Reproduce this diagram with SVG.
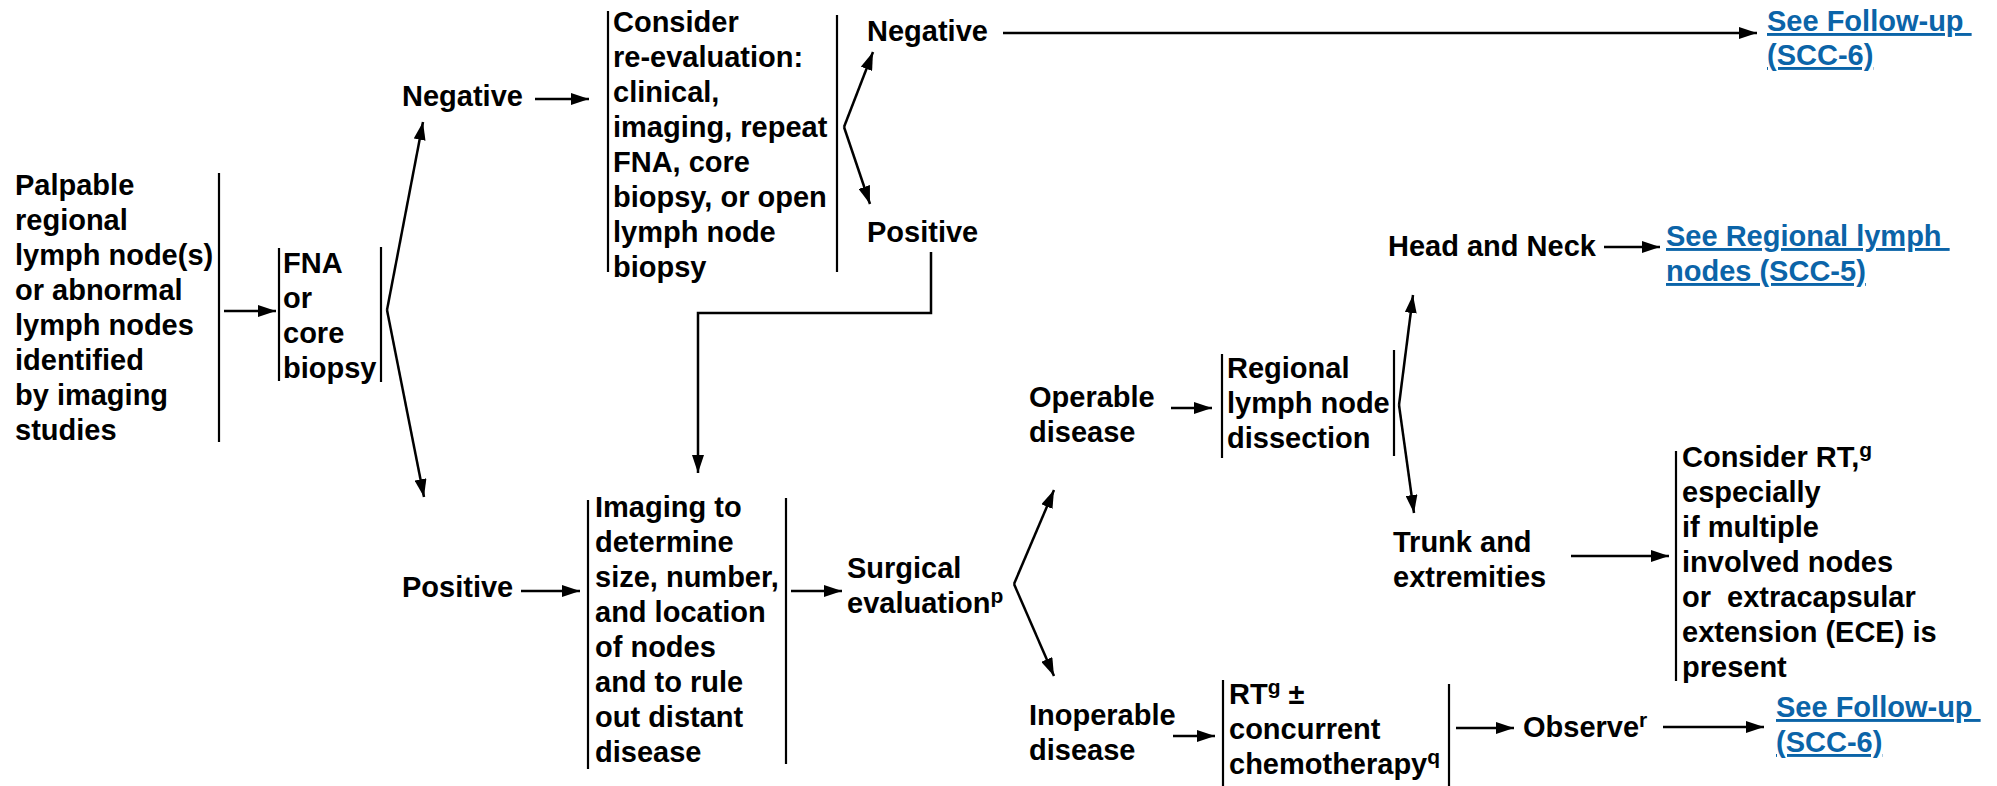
<svg xmlns="http://www.w3.org/2000/svg" width="1997" height="786" viewBox="0 0 1997 786">
<style>
.t{font-family:"Liberation Sans",Arial,sans-serif;font-weight:bold;font-size:29px;fill:#000}
.lk{fill:#0B64A8;text-decoration:underline;white-space:pre}
.sup{font-size:21px}
.bar{stroke:#000;stroke-width:2.2;fill:none}
.ar{stroke:#000;stroke-width:2.5;fill:none;marker-end:url(#ah)}
</style>
<defs>
<marker id="ah" markerUnits="userSpaceOnUse" markerWidth="18" markerHeight="12" refX="18" refY="6" orient="auto">
<path d="M0,0 L18,6 L0,12 z" fill="#000"/>
</marker>
</defs>
<rect width="1997" height="786" fill="#fff"/>

<g id="n-palpable">
<text class="t" x="15" y="195">Palpable</text>
<text class="t" x="15" y="230">regional</text>
<text class="t" x="15" y="265">lymph node(s)</text>
<text class="t" x="15" y="300">or abnormal</text>
<text class="t" x="15" y="335">lymph nodes</text>
<text class="t" x="15" y="370">identified</text>
<text class="t" x="15" y="405">by imaging</text>
<text class="t" x="15" y="440">studies</text>
<line class="bar" x1="219" y1="173" x2="219" y2="442"/>
</g>

<g id="n-fna">
<line class="bar" x1="279" y1="248" x2="279" y2="381"/>
<text class="t" x="283" y="273">FNA</text>
<text class="t" x="283" y="308">or</text>
<text class="t" x="283" y="343">core</text>
<text class="t" x="283" y="378">biopsy</text>
<line class="bar" x1="381" y1="247" x2="381" y2="382"/>
</g>

<g id="n-neg1"><text class="t" x="402" y="106">Negative</text></g>
<g id="n-pos1"><text class="t" x="402" y="597">Positive</text></g>

<g id="n-consider">
<line class="bar" x1="608" y1="11" x2="608" y2="272"/>
<text class="t" x="613" y="32">Consider</text>
<text class="t" x="613" y="67">re-evaluation:</text>
<text class="t" x="613" y="102">clinical,</text>
<text class="t" x="613" y="137">imaging, repeat</text>
<text class="t" x="613" y="172">FNA, core</text>
<text class="t" x="613" y="207">biopsy, or open</text>
<text class="t" x="613" y="242">lymph node</text>
<text class="t" x="613" y="277">biopsy</text>
<line class="bar" x1="837" y1="15" x2="837" y2="272"/>
</g>

<g id="n-neg2"><text class="t" x="867" y="41">Negative</text></g>
<g id="n-pos2"><text class="t" x="867" y="242">Positive</text></g>

<g id="n-fu1">
<text class="t lk" x="1767" y="31">See Follow-up </text>
<text class="t lk" x="1767" y="65">(SCC-6)</text>
</g>

<g id="n-imaging">
<line class="bar" x1="588" y1="500" x2="588" y2="769"/>
<text class="t" x="595" y="517">Imaging to</text>
<text class="t" x="595" y="552">determine</text>
<text class="t" x="595" y="587">size, number,</text>
<text class="t" x="595" y="622">and location</text>
<text class="t" x="595" y="657">of nodes</text>
<text class="t" x="595" y="692">and to rule</text>
<text class="t" x="595" y="727">out distant</text>
<text class="t" x="595" y="762">disease</text>
<line class="bar" x1="786" y1="498" x2="786" y2="764"/>
</g>

<g id="n-surgical">
<text class="t" x="847" y="578">Surgical</text>
<text class="t" x="847" y="613">evaluation<tspan class="sup" dy="-10">p</tspan></text>
</g>

<g id="n-operable">
<text class="t" x="1029" y="407">Operable</text>
<text class="t" x="1029" y="442">disease</text>
</g>

<g id="n-regional">
<line class="bar" x1="1222" y1="354" x2="1222" y2="458"/>
<text class="t" x="1227" y="378">Regional</text>
<text class="t" x="1227" y="413">lymph node</text>
<text class="t" x="1227" y="448">dissection</text>
<line class="bar" x1="1394" y1="350" x2="1394" y2="456"/>
</g>

<g id="n-headneck"><text class="t" x="1388" y="256">Head and Neck</text></g>

<g id="n-fu-regional">
<text class="t lk" x="1666" y="246">See Regional lymph </text>
<text class="t lk" x="1666" y="281">nodes (SCC-5)</text>
</g>

<g id="n-trunk">
<text class="t" x="1393" y="552">Trunk and</text>
<text class="t" x="1393" y="587">extremities</text>
</g>

<g id="n-considerrt">
<line class="bar" x1="1676" y1="451" x2="1676" y2="681"/>
<text class="t" x="1682" y="467">Consider RT,<tspan class="sup" dy="-10">g</tspan></text>
<text class="t" x="1682" y="502">especially</text>
<text class="t" x="1682" y="537">if multiple</text>
<text class="t" x="1682" y="572">involved nodes</text>
<text class="t" x="1682" y="607" style="white-space:pre">or  extracapsular</text>
<text class="t" x="1682" y="642">extension (ECE) is</text>
<text class="t" x="1682" y="677">present</text>
</g>

<g id="n-inoperable">
<text class="t" x="1029" y="725">Inoperable</text>
<text class="t" x="1029" y="760">disease</text>
</g>

<g id="n-rt">
<line class="bar" x1="1223" y1="680" x2="1223" y2="786"/>
<text class="t" x="1229" y="704">RT<tspan class="sup" dy="-10">g</tspan><tspan dy="10"> ±</tspan></text>
<text class="t" x="1229" y="739">concurrent</text>
<text class="t" x="1229" y="774">chemotherapy<tspan class="sup" dy="-10">q</tspan></text>
<line class="bar" x1="1449" y1="684" x2="1449" y2="786"/>
</g>

<g id="n-observe"><text class="t" x="1523" y="737">Observe<tspan class="sup" dy="-10">r</tspan></text></g>

<g id="n-fu2">
<text class="t lk" x="1776" y="717">See Follow-up </text>
<text class="t lk" x="1776" y="752">(SCC-6)</text>
</g>

<g id="connectors">
<line class="ar" x1="224" y1="311" x2="276" y2="311"/>
<line class="ar" x1="387" y1="310" x2="423" y2="122"/>
<line class="ar" x1="387" y1="310" x2="424" y2="497"/>
<line class="ar" x1="535" y1="99" x2="589" y2="99"/>
<line class="ar" x1="844" y1="127" x2="873" y2="52"/>
<line class="ar" x1="844" y1="127" x2="870" y2="204"/>
<line class="ar" x1="1003" y1="33" x2="1757" y2="33"/>
<path class="ar" d="M931,252 V313 H698 V473"/>
<line class="ar" x1="521" y1="591" x2="580" y2="591"/>
<line class="ar" x1="791" y1="591" x2="842" y2="591"/>
<line class="ar" x1="1014" y1="584" x2="1054" y2="490"/>
<line class="ar" x1="1014" y1="584" x2="1054" y2="676"/>
<line class="ar" x1="1171" y1="408" x2="1212" y2="408"/>
<line class="ar" x1="1399" y1="405" x2="1413" y2="295"/>
<line class="ar" x1="1399" y1="405" x2="1414" y2="513"/>
<line class="ar" x1="1604" y1="247" x2="1660" y2="247"/>
<line class="ar" x1="1571" y1="556" x2="1669" y2="556"/>
<line class="ar" x1="1173" y1="736" x2="1215" y2="736"/>
<line class="ar" x1="1456" y1="728" x2="1514" y2="728"/>
<line class="ar" x1="1663" y1="727" x2="1764" y2="727"/>
</g>
</svg>
